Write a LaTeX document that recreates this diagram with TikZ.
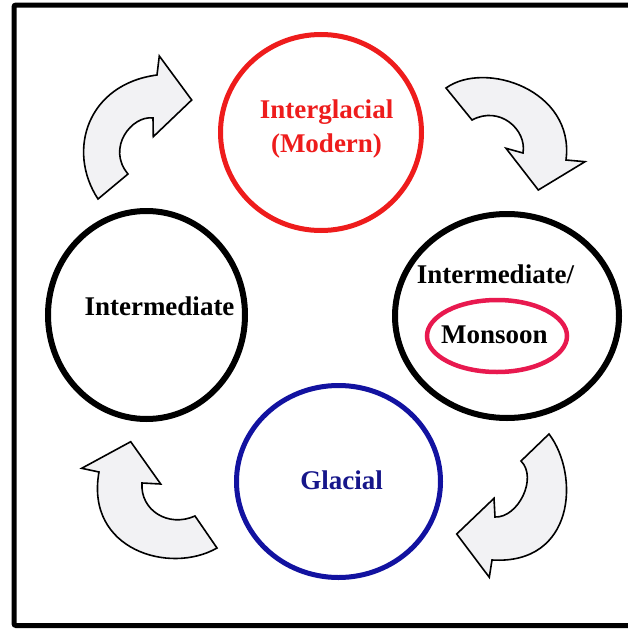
\documentclass[tikz,border=0pt]{standalone}
\usepackage{fontspec}
\setmainfont{Liberation Serif}
\usetikzlibrary{shapes.geometric}
\definecolor{cred}{HTML}{EE1C1C}
\definecolor{cpink}{HTML}{E8194F}
\definecolor{cblue}{HTML}{1212A0}
\definecolor{cnavy}{HTML}{16168A}
\definecolor{cfill}{HTML}{F2F2F4}
\tikzset{
  ring/.style={ellipse, draw, inner sep=0pt},
  lbl/.style={font=\fontsize{27}{35}\selectfont\bfseries, inner sep=0pt, anchor=base, align=center},
  bigarrow/.style={draw=black, fill=cfill, line width=1.6pt, line join=miter},
}
\begin{document}
\begin{tikzpicture}[x=1pt,y=-1pt]
\useasboundingbox (0,0) rectangle (628,629);
\clip (0,0) rectangle (628,629);
\fill[white] (0,0) rectangle (628,629);
% frame
\draw[line width=5pt, rounded corners=2pt] (14,5) rectangle (645,625.5);

% circles
\node[ring, draw=cred, line width=5pt, minimum width=201pt, minimum height=196pt] (inter) at (321,132.5) {};
\node[ring, draw=black, line width=6pt, minimum width=197pt, minimum height=208pt] (left) at (146.5,315) {};
\node[ring, draw=black, line width=6pt, minimum width=224pt, minimum height=204pt] (right) at (507,316) {};
\node[ring, draw=cblue, line width=5pt, minimum width=204pt, minimum height=192pt] (glac) at (338.5,481.5) {};
\node[ring, draw=cpink, line width=4.5pt, minimum width=140pt, minimum height=72pt] (mons) at (497,336) {};

% labels
\node[lbl, text=cred] (tinter) at (326.5,118) {Interglacial};
\node[lbl, text=cred] (tmod) at (326.5,152) {(Modern)};
\node[lbl] (tleft) at (159.5,315) {Intermediate};
\node[lbl] (tright) at (495.5,283) {Intermediate/};
\node[lbl] (tmons) at (494.5,343) {Monsoon};
\node[lbl, text=cnavy] (tglac) at (341.5,489) {Glacial};

% arrows
\filldraw[bigarrow] (98,199) .. controls (66,150) and (88,84) .. (157,75)
  -- (159.3,56) -- (191.7,100) -- (153.3,136.7) -- (153,118)
  .. controls (132,115) and (106,148) .. (128,174) -- cycle;

\filldraw[bigarrow] (446,88) .. controls (485,60) and (575,90) .. (566,160)
  -- (585,161.7) -- (538.3,190) -- (506,148.3) -- (523,153)
  .. controls (527,130) and (500,105) .. (472,120) -- cycle;

\filldraw[bigarrow] (549,434) .. controls (580,475) and (575,565) .. (492,560)
  -- (489.3,577.3) -- (456.7,534) -- (494,498.3) -- (495,517)
  .. controls (518,518) and (538,478) .. (521,461) -- cycle;

\filldraw[bigarrow] (217,548) .. controls (170,575) and (85,550) .. (99,472)
  -- (81.7,468.3) -- (130.7,441.7) -- (160.7,484) -- (142,483)
  .. controls (140,510) and (168,528) .. (195,516) -- cycle;
\end{tikzpicture}
\end{document}
